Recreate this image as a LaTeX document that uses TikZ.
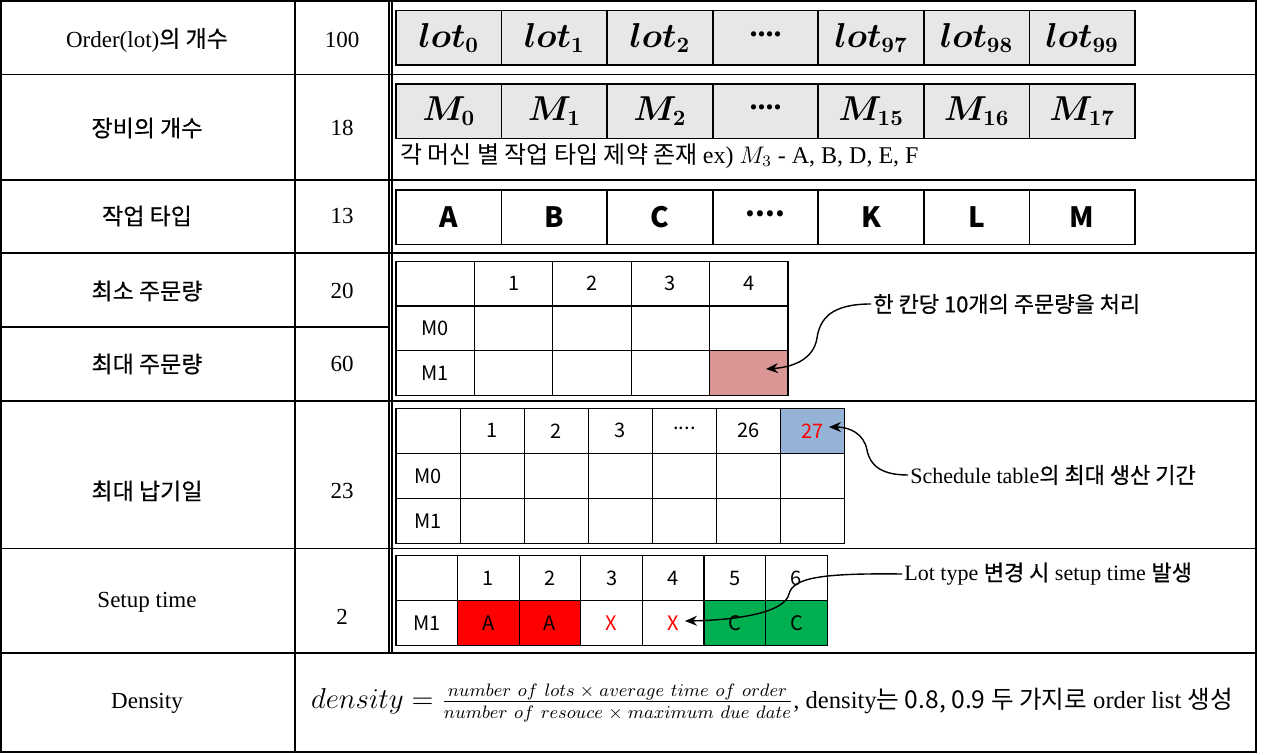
\documentclass[tikz,border=0pt]{standalone}
\usepackage{fontspec}
\usepackage{amsmath,bm}
\setmainfont{Liberation Serif}
\newfontfamily\kor{Noto Sans CJK KR}
\newfontfamily\korm[FakeBold=0.5]{Noto Sans CJK KR}
\usetikzlibrary{arrows.meta}
\definecolor{boxgray}{RGB}{231,231,231}
\definecolor{qtyred}{RGB}{217,150,148}
\definecolor{dueblue}{RGB}{149,179,215}
\definecolor{setgreen}{RGB}{0,176,80}
\begin{document}
\begin{tikzpicture}[x=0.5pt, y=-0.5pt,
  lotbox/.style={draw, line width=0.8pt, fill=boxgray, minimum width=52.79pt, minimum height=27.15pt, inner sep=0pt, font=\fontsize{16}{19}\selectfont},
  typebox/.style={draw, line width=0.8pt, minimum width=52.79pt, minimum height=27.15pt, inner sep=0pt, font=\kor\bfseries\fontsize{14}{17}\selectfont},
  qcell/.style={draw, line width=0.6pt, minimum width=39.2pt, minimum height=22.3pt, inner sep=0pt, font=\kor\fontsize{10}{12}\selectfont},
  dcell/.style={qcell, minimum width=32.05pt, minimum height=22.5pt},
  scell/.style={qcell, minimum width=30.8pt, minimum height=22.5pt},
  lbl/.style={font=\fontsize{11.5}{14}\selectfont, inner sep=1pt},
  klbl/.style={font=\korm\fontsize{11.5}{14}\selectfont, inner sep=1pt},
  note/.style={font=\fontsize{11}{13}\selectfont, inner sep=1pt, anchor=west},
  arr/.style={-{Stealth[length=6pt, width=5pt]}, line width=0.7pt}]
\useasboundingbox (0,0) rectangle (1276,755);
% table frame
\draw[line width=0.9pt] (1,1) rectangle (1256,752);
\draw[line width=0.9pt] (1,74.5) -- (1256,74.5);
\draw[line width=0.9pt] (1,180) -- (1256,180);
\draw[line width=0.9pt] (1,253.3) -- (1256,253.3);
\draw[line width=0.9pt] (1,327) -- (389,327);
\draw[line width=0.9pt] (1,401) -- (1256,401);
\draw[line width=0.9pt] (1,548.5) -- (1256,548.5);
\draw[line width=0.9pt] (1,653) -- (1256,653);
\draw[line width=0.9pt] (295,1) -- (295,752);
\draw[line width=0.6pt] (389,1) -- (389,653);
\draw[line width=0.6pt] (392,1) -- (392,653);
% left columns
\node[lbl] (name0) at (147,40) {Order(lot){\korm 의 개수}};
\node[lbl] (val0) at (342,40) {100};
\node[klbl] (name1) at (147,128) {장비의 개수};
\node[lbl] (val1) at (342,128) {18};
\node[klbl] (name2) at (147,216) {작업 타입};
\node[lbl] (val2) at (342,216) {13};
\node[klbl] (name3) at (147,291) {최소 주문량};
\node[lbl] (val3) at (342,291) {20};
\node[klbl] (name4) at (147,364) {최대 주문량};
\node[lbl] (val4) at (342,364) {60};
\node[klbl] (name5) at (147,491) {최대 납기일};
\node[lbl] (val5) at (342,491) {23};
\node[lbl] (name6) at (147,602) {Setup time};
\node[lbl] (val6) at (342,617) {2};
\node[lbl] (name7) at (147,703) {Density};
% lots
\node[lotbox] (lot0) at (448.8,37.8) {$\boldsymbol{lot_{0}}$};
\node[lotbox] (lot1) at (554.4,37.8) {$\boldsymbol{lot_{1}}$};
\node[lotbox] (lot2) at (659.9,37.8) {$\boldsymbol{lot_{2}}$};
\node[lotbox] (lot3) at (765.5,37.8) {\raisebox{.25em}{\textbf{....}}};
\node[lotbox] (lot4) at (871.1,37.8) {$\boldsymbol{lot_{97}}$};
\node[lotbox] (lot5) at (976.6,37.8) {$\boldsymbol{lot_{98}}$};
\node[lotbox] (lot6) at (1082.2,37.8) {$\boldsymbol{lot_{99}}$};
% machines
\node[lotbox] (mach0) at (448.8,111.2) {$\boldsymbol{M_{0}}$};
\node[lotbox] (mach1) at (554.4,111.2) {$\boldsymbol{M_{1}}$};
\node[lotbox] (mach2) at (659.9,111.2) {$\boldsymbol{M_{2}}$};
\node[lotbox] (mach3) at (765.5,111.2) {\raisebox{.25em}{\textbf{....}}};
\node[lotbox] (mach4) at (871.1,111.2) {$\boldsymbol{M_{15}}$};
\node[lotbox] (mach5) at (976.6,111.2) {$\boldsymbol{M_{16}}$};
\node[lotbox] (mach6) at (1082.2,111.2) {$\boldsymbol{M_{17}}$};
\node[note, font=\kor\fontsize{12}{14}\selectfont] (mnote) at (398,156) {각 머신 별 작업 타입 제약 존재 {\rmfamily ex) $M_3$ - A, B, D, E, F}};
% job types
\node[typebox] (type0) at (448.8,217.2) {A};
\node[typebox] (type1) at (554.4,217.2) {B};
\node[typebox] (type2) at (659.9,217.2) {C};
\node[typebox] (type3) at (765.5,217.2) {\raisebox{.25em}{....}};
\node[typebox] (type4) at (871.1,217.2) {K};
\node[typebox] (type5) at (976.6,217.2) {L};
\node[typebox] (type6) at (1082.2,217.2) {M};
% order quantity table
\node[qcell] (qty-0-0) at (435.2,283.6) {};
\node[qcell] (qty-0-1) at (513.6,283.6) {1};
\node[qcell] (qty-0-2) at (592.0,283.6) {2};
\node[qcell] (qty-0-3) at (670.4,283.6) {3};
\node[qcell] (qty-0-4) at (748.8,283.6) {4};
\node[qcell] (qty-1-0) at (435.2,328.2) {M0};
\node[qcell] (qty-1-1) at (513.6,328.2) {};
\node[qcell] (qty-1-2) at (592.0,328.2) {};
\node[qcell] (qty-1-3) at (670.4,328.2) {};
\node[qcell] (qty-1-4) at (748.8,328.2) {};
\node[qcell] (qty-2-0) at (435.2,372.8) {M1};
\node[qcell] (qty-2-1) at (513.6,372.8) {};
\node[qcell] (qty-2-2) at (592.0,372.8) {};
\node[qcell] (qty-2-3) at (670.4,372.8) {};
\node[qcell, fill=qtyred] (qty-2-4) at (748.8,372.8) {};
\node[note, font=\korm\fontsize{11}{13}\selectfont] (ann1) at (871,304) {한 칸당 10개의 주문량을 처리};
\coordinate (tip1) at (766,369);
\draw[arr] (ann1.west) .. controls (832,304) and (820,318) .. (817,338) .. controls (814,358) and (795,367) .. (tip1);
% due date table
\node[dcell] (due-0-0) at (428.05,430.8) {};
\node[dcell] (due-0-1) at (492.15,430.8) {1};
\node[dcell] (due-0-2) at (556.25,430.8) {2};
\node[dcell] (due-0-3) at (620.35,430.8) {3};
\node[dcell] (due-0-4) at (684.45,430.8) {\raisebox{.3em}{....}};
\node[dcell] (due-0-5) at (748.55,430.8) {26};
\node[dcell, fill=dueblue, text=red] (due-0-6) at (812.65,430.8) {27};
\node[dcell] (due-1-0) at (428.05,475.8) {M0};
\node[dcell] (due-1-1) at (492.15,475.8) {};
\node[dcell] (due-1-2) at (556.25,475.8) {};
\node[dcell] (due-1-3) at (620.35,475.8) {};
\node[dcell] (due-1-4) at (684.45,475.8) {};
\node[dcell] (due-1-5) at (748.55,475.8) {};
\node[dcell] (due-1-6) at (812.65,475.8) {};
\node[dcell] (due-2-0) at (428.05,520.8) {M1};
\node[dcell] (due-2-1) at (492.15,520.8) {};
\node[dcell] (due-2-2) at (556.25,520.8) {};
\node[dcell] (due-2-3) at (620.35,520.8) {};
\node[dcell] (due-2-4) at (684.45,520.8) {};
\node[dcell] (due-2-5) at (748.55,520.8) {};
\node[dcell] (due-2-6) at (812.65,520.8) {};
\node[note] (ann2) at (908,475) {Schedule table{\korm 의 최대 생산 기간}};
\coordinate (tip2) at (829,427);
\draw[arr] (ann2.west) .. controls (882,475) and (870,466) .. (867,450) .. controls (864,434) and (850,427) .. (tip2);
% setup time table
\node[scell] (set-0-0) at (426.8,578) {};
\node[scell] (set-0-1) at (488.4,578) {1};
\node[scell] (set-0-2) at (550.0,578) {2};
\node[scell] (set-0-3) at (611.6,578) {3};
\node[scell] (set-0-4) at (673.2,578) {4};
\node[scell] (set-0-5) at (734.8,578) {5};
\node[scell] (set-0-6) at (796.4,578) {6};
\node[scell] (set-1-0) at (426.8,623) {M1};
\node[scell, fill=red] (set-1-1) at (488.4,623) {A};
\node[scell, fill=red] (set-1-2) at (550.0,623) {A};
\node[scell, text=red] (set-1-3) at (611.6,623) {X};
\node[scell, text=red] (set-1-4) at (673.2,623) {X};
\node[scell, fill=setgreen] (set-1-5) at (734.8,623) {C};
\node[scell, fill=setgreen] (set-1-6) at (796.4,623) {C};
\node[note] (ann3) at (902,574) {Lot type {\korm 변경 시} setup time {\korm 발생}};
\coordinate (tip3) at (685,621);
\draw[arr] (ann3.west) .. controls (820,573) and (793,578) .. (789,594) .. controls (785,612) and (740,620) .. (tip3);
% density
\node[font=\fontsize{12.3}{15}\selectfont] (dens) at (772,703) {{\fontsize{13.5}{16}\selectfont$density = \frac{number\ of\ lots\;\times\;average\ time\ of\ order}{number\ of\ resouce\;\times\;maximum\ due\ date}$}, density{\kor 는 0.8, 0.9 두 가지로} order list {\kor 생성}};
\end{tikzpicture}
\end{document}
